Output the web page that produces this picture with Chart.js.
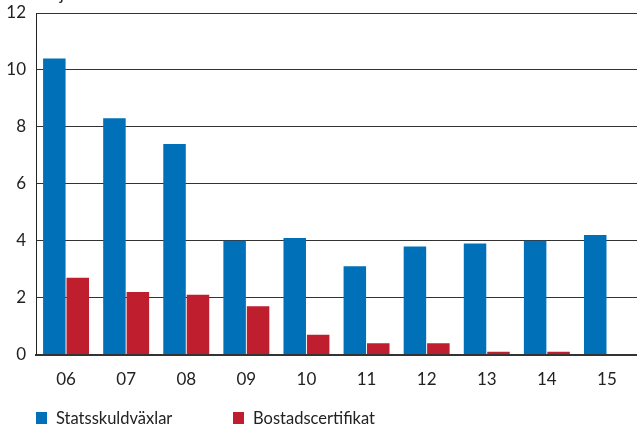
<!DOCTYPE html>
<html>
<head>
<meta charset="utf-8">
<script src="https://cdn.jsdelivr.net/npm/chart.js@4"></script>
<style>
  html, body { margin: 0; padding: 0; background: #fff; }
  #wrap { width: 637px; height: 425px; position: relative; }
  .legend { position: absolute; top: 408px; left: 36px; font: 16.5px Lato, 'Open Sans', sans-serif; color: #222; }
  .legend span { position: absolute; white-space: nowrap; display: flex; align-items: center; }
  .legend i { display: inline-block; width: 11px; height: 12px; margin-right: 9px; }
</style>
</head>
<body>
<div id="wrap">
  <canvas id="c"></canvas>
  <div class="legend" id="legend"></div>
</div>
<script>
// ── Data ──────────────────────────────────────
const years = ['06', '07', '08', '09', '10', '11', '12', '13', '14', '15'];
const statsskuldvaxlar = [10.4, 8.3, 7.4, 4.0, 4.1, 3.1, 3.8, 3.9, 4.0, 4.2];
const bostadscertifikat = [2.7, 2.2, 2.1, 1.7, 0.7, 0.4, 0.4, 0.1, 0.1, null];
const yTicks = [0, 2, 4, 6, 8, 10, 12];

const FONT = 'Lato, Open Sans, sans-serif';
const COLORS = ['#0070b8', '#be1e2d'];

// unit label, cut off at the top edge like in the source
const unitLabel = {
  id: 'unitLabel',
  afterDraw(chart) {
    const ctx = chart.ctx;
    ctx.save();
    ctx.font = `17px ${FONT}`;
    ctx.fillStyle = '#222';
    ctx.textBaseline = 'alphabetic';
    ctx.fillText('Miljarder kronor', 36, 0);
    ctx.restore();
  }
};

const chart = new Chart(document.getElementById('c'), {
  type: 'bar',
  data: {
    labels: years,
    datasets: [
      { label: 'Statsskuldväxlar', data: statsskuldvaxlar, backgroundColor: COLORS[0] },
      { label: 'Bostadscertifikat', data: bostadscertifikat, backgroundColor: COLORS[1] },
    ],
  },
  options: {
    responsive: true, maintainAspectRatio: false, animation: false,
    layout: { padding: { top: 13, right: 0, left: 0, bottom: 28 } },
    datasets: { bar: { categoryPercentage: 0.78, barPercentage: 0.96 } },
    plugins: { tooltip: { enabled: false }, legend: { display: false } },
    scales: {
      x: {
        grid: { display: false },
        border: { color: '#333', width: 2 },
        ticks: { color: '#222', font: { family: FONT, size: 17 }, padding: 7 },
      },
      y: {
        min: 0, max: 12,
        afterBuildTicks: (axis) => { axis.ticks = yTicks.map((v) => ({ value: v })); },
        afterFit: (axis) => { axis.paddingTop = 0; axis.width = 36; },
        grid: { color: '#333', lineWidth: 1, drawTicks: false },
        border: { color: '#222', width: 1 },
        ticks: { color: '#222', font: { family: FONT, size: 17 }, padding: 10 },
      },
    },
  },
  plugins: [unitLabel],
});

// HTML legend
const legendX = [0, 197];
document.getElementById('legend').innerHTML = chart.data.datasets.map((ds, i) =>
  `<span style="left:${legendX[i]}px"><i style="background:${COLORS[i]}"></i>${ds.label}</span>`
).join('');
</script>
</body>
</html>
